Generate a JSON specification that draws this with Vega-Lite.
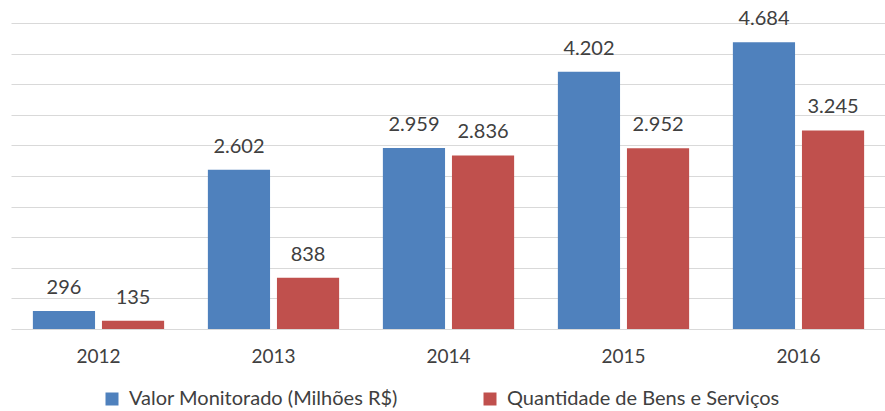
{
  "$schema": "https://vega.github.io/schema/vega-lite/v6.json",
  "width": 875,
  "height": 306,
  "autosize": {"type": "none"},
  "padding": {"left": 11, "top": 23, "right": 0, "bottom": 82},
  "background": "white",
  "config": {
    "view": {"stroke": null},
    "font": "Lato",
    "locale": {"number": {"decimal": ",", "thousands": ".", "grouping": [3], "currency": ["R$", ""]}}
  },
  "data": {
    "values": [
      {"ano": "2012", "serie": "Valor Monitorado (Milhões R$)", "valor": 296},
      {"ano": "2012", "serie": "Quantidade de Bens e Serviços", "valor": 135},
      {"ano": "2013", "serie": "Valor Monitorado (Milhões R$)", "valor": 2602},
      {"ano": "2013", "serie": "Quantidade de Bens e Serviços", "valor": 838},
      {"ano": "2014", "serie": "Valor Monitorado (Milhões R$)", "valor": 2959},
      {"ano": "2014", "serie": "Quantidade de Bens e Serviços", "valor": 2836},
      {"ano": "2015", "serie": "Valor Monitorado (Milhões R$)", "valor": 4202},
      {"ano": "2015", "serie": "Quantidade de Bens e Serviços", "valor": 2952},
      {"ano": "2016", "serie": "Valor Monitorado (Milhões R$)", "valor": 4684},
      {"ano": "2016", "serie": "Quantidade de Bens e Serviços", "valor": 3245}
    ]
  },
  "encoding": {
    "x": {
      "field": "ano",
      "type": "nominal",
      "scale": {"paddingInner": 0.25, "paddingOuter": 0.125},
      "axis": {
        "title": null,
        "labelAngle": 0,
        "domain": false,
        "ticks": false,
        "labelPadding": 18,
        "labelFontSize": 19,
        "labelColor": "#404040",
        "labelFont": "Lato"
      }
    },
    "xOffset": {
      "field": "serie",
      "type": "nominal",
      "scale": {
        "domain": ["Valor Monitorado (Milhões R$)", "Quantidade de Bens e Serviços"],
        "paddingInner": 0.1,
        "paddingOuter": 0
      }
    },
    "y": {
      "field": "valor",
      "type": "quantitative",
      "scale": {"domain": [0, 5000], "nice": false},
      "axis": {
        "values": [0, 500, 1000, 1500, 2000, 2500, 3000, 3500, 4000, 4500, 5000],
        "labels": false,
        "ticks": false,
        "domain": false,
        "title": null,
        "grid": true,
        "gridColor": "#D9D9D9",
        "gridWidth": 1
      }
    }
  },
  "layer": [
    {
      "mark": {"type": "bar"},
      "encoding": {
        "color": {
          "field": "serie",
          "type": "nominal",
          "scale": {
            "domain": ["Valor Monitorado (Milhões R$)", "Quantidade de Bens e Serviços"],
            "range": ["#4F81BD", "#C0504D"]
          },
          "legend": {
            "title": null,
            "orient": "none",
            "legendX": 91,
            "legendY": 366,
            "direction": "horizontal",
            "symbolType": "square",
            "symbolSize": 169,
            "symbolStrokeWidth": 0,
            "labelFontSize": 20,
            "labelOffset": 7,
            "labelColor": "#404040",
            "labelFont": "Lato",
            "columnPadding": 82,
            "labelLimit": 400
          }
        }
      }
    },
    {
      "mark": {
        "type": "text",
        "baseline": "alphabetic",
        "dy": -17,
        "fontSize": 20,
        "color": "#404040",
        "font": "Lato"
      },
      "encoding": {
        "text": {"field": "valor", "type": "quantitative", "format": ",d"}
      }
    }
  ]
}
